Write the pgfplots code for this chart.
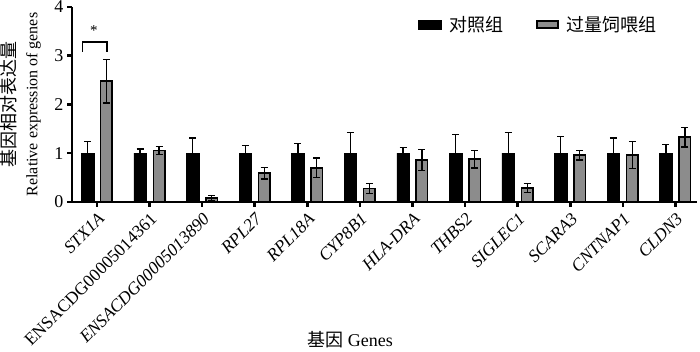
\documentclass[border=0pt]{standalone}
\usepackage{fontspec}
\setmainfont{Liberation Serif}
\newfontfamily\cjk{Noto Sans CJK SC}
\usepackage{pgfplots}
\usepackage{pgfplotstable}
\pgfplotsset{compat=1.18}
% x positions shifted by +-0.18 category (bar offset within group)
\pgfplotstableread{
x y e
-0.18 1 0.24
0.82 1 0.09
1.82 1 0.31
2.82 1 0.16
3.82 1 0.20
4.82 1 0.42
5.82 1 0.12
6.82 1 0.38
7.82 1 0.43
8.82 1 0.35
9.82 1 0.31
10.82 1 0.18
}\ctrl
\pgfplotstableread{
x y e
0.18 2.48 0.45
1.18 1.06 0.08
2.18 0.08 0.05
3.18 0.59 0.12
4.18 0.70 0.20
5.18 0.28 0.10
6.18 0.86 0.21
7.18 0.88 0.18
8.18 0.29 0.09
9.18 0.96 0.10
10.18 0.96 0.28
11.18 1.33 0.20
}\treat
\definecolor{bargray}{gray}{0.55}
\begin{document}
\begin{tikzpicture}
\useasboundingbox (0,0) rectangle (700pt,352pt);
\begin{axis}[
 at={(72pt,150pt)}, anchor=south west,
 scale only axis, width=625pt, height=195pt,
 xmin=-0.475, xmax=11.41, ymin=0, ymax=4,
 clip=false,
 axis lines=left, axis line style={-, line width=2.8pt},
 ytick={0,1,2,3,4}, xtick={0,...,11},
 xticklabels={\textit{STX1A}, ENSACDG00005014361, \textit{ENSACDG00005013890}, \textit{RPL27}, \textit{RPL18A}, \textit{CYP8B1}, \textit{HLA-DRA}, \textit{THBS2}, \textit{SIGLEC1}, \textit{SCARA3}, \textit{CNTNAP1}, \textit{CLDN3}},
 tick align=outside, major tick length=5pt, tick style={line width=2.5pt, black},
 x tick label style={rotate=45, anchor=north east, font=\fontsize{17.5}{18}\selectfont},
 y tick label style={font=\fontsize{18}{18}\selectfont},
 /pgf/number format/assume math mode=true,
 ylabel={{\cjk\fontsize{18}{18}\selectfont 基因相对表达量}\\{\fontsize{16}{16}\selectfont Relative expression of genes}},
 ylabel style={align=center, at={(axis description cs:-0.0824,0.5)}, anchor=center, font=\fontsize{16}{22}\selectfont},
 xlabel={{\cjk 基因} Genes},
 xlabel style={at={(axis description cs:0.445,-0.708)}, anchor=center, font=\fontsize{18}{18}\selectfont},
 legend columns=2,
 legend style={draw=none, fill=none, inner sep=0pt, outer sep=0pt,
   at={(axis description cs:0.5536,0.9077)}, anchor=west,
   font=\cjk\fontsize{18}{18}\selectfont,
   nodes={inner sep=0pt},
   /tikz/every odd column/.append style={column sep=8pt},
   /tikz/every even column/.append style={column sep=32pt}},
]
\addplot[ybar, bar width=12.5pt, bar shift=0pt, fill=black, draw=black, line width=0.5pt,
  legend image code/.code={\draw[fill=black, draw=black] (0pt,-4.5pt) rectangle (23pt,4.5pt);},
  error bars/.cd, y dir=both, y explicit, error mark=|,
  error mark options={mark size=3.5pt, line width=1.3pt, black},
  error bar style={line width=1.3pt, black}]
  table[x=x, y=y, y error=e] {\ctrl};
\addlegendentry{对照组}
\addplot[ybar, bar width=11.5pt, bar shift=0pt, fill=bargray, draw=black, line width=1.5pt,
  legend image code/.code={\draw[fill=bargray, draw=black, line width=2pt] (1pt,-3.5pt) rectangle (22pt,3.5pt);},
  error bars/.cd, y dir=both, y explicit, error mark=|,
  error mark options={mark size=3.5pt, line width=1.3pt, black},
  error bar style={line width=1.3pt, black}]
  table[x=x, y=y, y error=e] {\treat};
\addlegendentry{过量饲喂组}
\draw[line width=1.2pt] (axis cs:-0.27,3.08) -- (axis cs:-0.27,3.28) -- (axis cs:0.19,3.28) -- (axis cs:0.19,3.08);
\node[font=\fontsize{15}{15}\selectfont] at (axis cs:-0.06,3.52) {*};
\end{axis}
\end{tikzpicture}
\end{document}
